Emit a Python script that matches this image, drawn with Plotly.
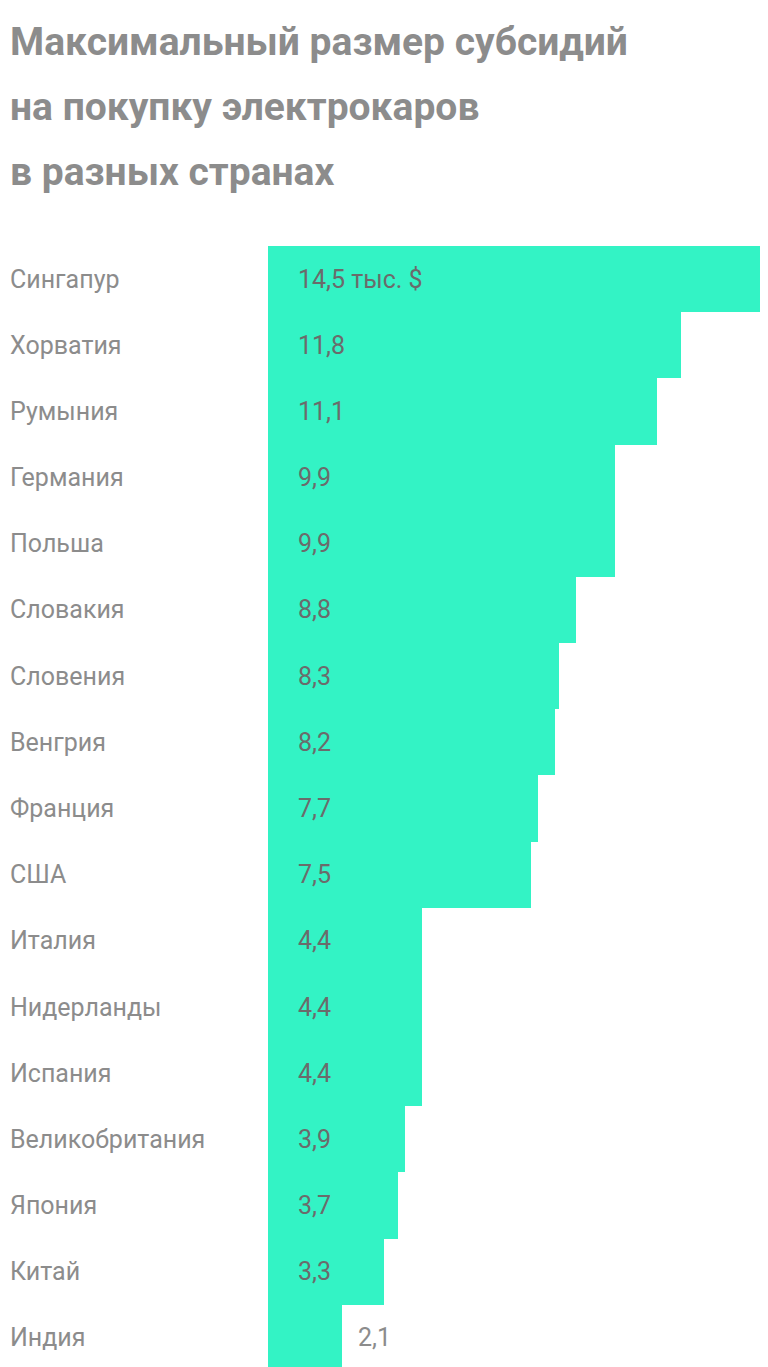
import plotly.graph_objects as go

countries = ["Сингапур", "Хорватия", "Румыния", "Германия", "Польша", "Словакия",
             "Словения", "Венгрия", "Франция", "США", "Италия", "Нидерланды",
             "Испания", "Великобритания", "Япония", "Китай", "Индия"]
values = [14.5, 11.8, 11.1, 9.9, 9.9, 8.8, 8.3, 8.2, 7.7, 7.5, 4.4, 4.4, 4.4,
          3.9, 3.7, 3.3, 2.1]
value_labels = ["14,5 тыс. $", "11,8", "11,1", "9,9", "9,9", "8,8", "8,3", "8,2",
                "7,7", "7,5", "4,4", "4,4", "4,4", "3,9", "3,7", "3,3", "2,1"]
title_lines = ["Максимальный размер субсидий", "на покупку электрокаров",
               "в разных странах"]

W, H = 768, 1367
L, T, B = 260, 238, 4
plot_w = W - L

fig = go.Figure(go.Bar(
    x=values, y=countries, orientation="h",
    marker=dict(color="#33f3c5", line=dict(width=0)),
    width=1.0, hoverinfo="skip",
))

ann = []
for i, line in enumerate(title_lines):
    ann.append(dict(text="<b>" + line + "</b>", xref="paper", yref="paper",
                    x=-L / plot_w, y=1 + (T - 34 - i * 65) / (H - T - B),
                    xanchor="left", yanchor="middle", showarrow=False,
                    font=dict(size=39, color="#8c8c8c", family="Roboto")))
for c, v, lab in zip(countries, values, value_labels):
    ann.append(dict(text=c, xref="paper", yref="y", x=-L / plot_w, y=c,
                    xanchor="left", yanchor="middle", showarrow=False,
                    font=dict(size=25, color="#8c8c8c", family="Roboto")))
    inside = v > 3
    ann.append(dict(text=lab, xref="x", yref="y", x=0 if inside else v, y=c,
                    xshift=28 if inside else 14,
                    xanchor="left", yanchor="middle", showarrow=False,
                    font=dict(size=25, color="#6b6b6b" if inside else "#8c8c8c",
                              family="Roboto")))

fig.update_layout(
    width=W, height=H, margin=dict(l=L, r=0, t=T, b=B),
    paper_bgcolor="white", plot_bgcolor="white", showlegend=False,
    bargap=0, annotations=ann,
    xaxis=dict(range=[0, 14.5], visible=False, fixedrange=True),
    yaxis=dict(autorange="reversed", visible=False, fixedrange=True),
)
fig.write_html("out.html")
